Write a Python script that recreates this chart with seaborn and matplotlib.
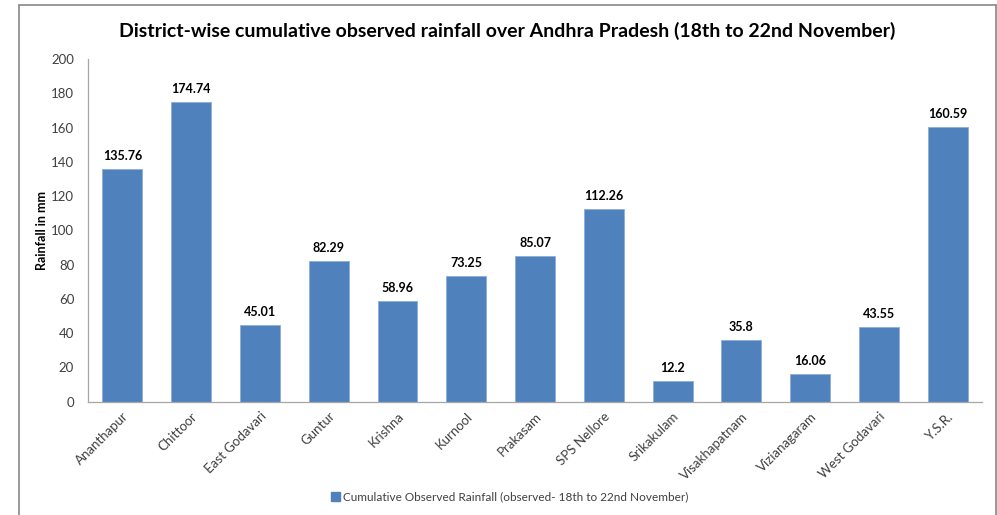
import pandas as pd
import matplotlib
matplotlib.use("Agg")
import matplotlib.pyplot as plt
import seaborn as sns
from matplotlib.lines import Line2D
from matplotlib.patches import Patch

districts = ['Ananthapur', 'Chittoor', 'East Godavari', 'Guntur', 'Krishna', 'Kurnool',
             'Prakasam', 'SPS Nellore', 'Srikakulam', 'Visakhapatnam', 'Vizianagaram',
             'West Godavari', 'Y.S.R.']
rainfall = [135.76, 174.74, 45.01, 82.29, 58.96, 73.25, 85.07, 112.26, 12.2, 35.8,
            16.06, 43.55, 160.59]
value_labels = ['135.76', '174.74', '45.01', '82.29', '58.96', '73.25', '85.07',
                '112.26', '12.2', '35.8', '16.06', '43.55', '160.59']
y_ticks = [0, 20, 40, 60, 80, 100, 120, 140, 160, 180, 200]

title = 'District-wise cumulative observed rainfall over Andhra Pradesh (18th to 22nd November)'
legend_label = 'Cumulative Observed Rainfall (observed- 18th to 22nd November)'

df = pd.DataFrame({'district': districts, 'rainfall': rainfall})

sns.set_style('white')
plt.rcParams['font.family'] = ['Lato', 'DejaVu Sans']

bar_color = '#4F81BD'
text_color = '#404040'

fig = plt.figure(figsize=(9.97, 5.15), dpi=100)
ax = fig.add_axes([0.0883, 0.22, 0.8967, 0.6654])

sns.barplot(data=df, x='district', y='rainfall', color=bar_color, width=0.58,
            edgecolor='#8DAED8', linewidth=0.6, saturation=1, ax=ax)

# data labels above each bar
for i, (v, lab) in enumerate(zip(rainfall, value_labels)):
    ax.annotate(lab, (i, v), xytext=(0, 5), textcoords='offset points',
                ha='center', va='bottom', fontsize=9, fontweight='bold', color='black')

ax.set_ylim(0, 200)
ax.set_xlim(-0.5, len(districts) - 0.5)
ax.set_yticks(y_ticks)
ax.set_yticklabels([str(t) for t in y_ticks], fontsize=9.5, color=text_color)
ax.set_xticks(range(len(districts)))
ax.set_xticklabels(districts, rotation=45, ha='right', rotation_mode='anchor',
                   fontsize=9.5, color=text_color)
ax.tick_params(axis='y', length=0, pad=10)
ax.tick_params(axis='x', length=0, pad=6)
ax.set_xlabel('')
ax.set_ylabel('Rainfall in mm', fontsize=9, fontweight='bold', color='black', labelpad=2)

for side in ['top', 'right']:
    ax.spines[side].set_visible(False)
for side in ['left', 'bottom']:
    ax.spines[side].set_color('#A6A6A6')
    ax.spines[side].set_linewidth(0.9)
ax.grid(False)

fig.text(507 / 997, 1 - 31 / 515, title, ha='center', va='center',
         fontsize=14, fontweight='bold', color='black')

handle = Patch(facecolor=bar_color, edgecolor=bar_color)
fig.legend([handle], [legend_label], loc='center', bbox_to_anchor=(510 / 997, 1 - 497 / 515),
           frameon=False, fontsize=8.5, handlelength=0.7, handleheight=0.7,
           handletextpad=0.3, labelcolor=text_color)

# chart-area border (left, top, right)
frame_kw = dict(color='#888888', linewidth=1.2, transform=fig.transFigure)
fig.add_artist(Line2D([19 / 997, 19 / 997], [0, 1 - 5 / 515], **frame_kw))
fig.add_artist(Line2D([19 / 997, 996 / 997], [1 - 5 / 515, 1 - 5 / 515], **frame_kw))
fig.add_artist(Line2D([996 / 997, 996 / 997], [0, 1 - 5 / 515], **frame_kw))

fig.savefig('out.png', dpi=100)
